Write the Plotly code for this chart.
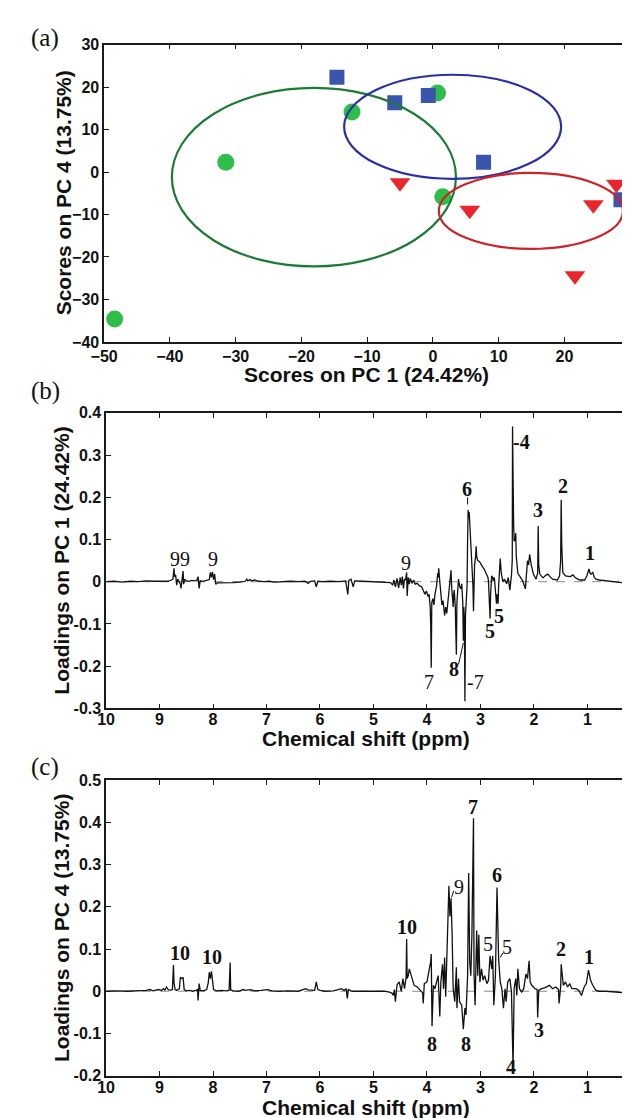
import plotly.graph_objects as go

# ---------------- Panel (a): PCA scores ----------------
green_pc1 = [-48.4, -31.5, -12.3, 0.7, 1.5]
green_pc4 = [-34.6, 2.3, 14.1, 18.6, -5.8]
blue_pc1 = [-14.6, -5.8, -0.7, 7.7, 28.6]
blue_pc4 = [22.3, 16.3, 18.0, 2.3, -6.5]
red_pc1 = [-5.0, 5.6, 24.4, 27.9, 21.6]
red_pc4 = [-2.5, -9.0, -7.7, -2.9, -24.4]

# confidence ellipses: [x_min, x_max, y_min, y_max]
ellipse_green = [-39.7, 3.5, -22.2, 19.8]
ellipse_blue = [-13.5, 19.5, -1.6, 22.9]
ellipse_red = [0.9, 28.9, -18.1, -0.2]

# ---------------- Panel (b): loadings on PC 1 ----------------
b_ppm = [
    10.0, 9.85, 9.7, 9.55, 9.4, 9.25, 9.1, 8.95, 8.85, 8.78, 8.75, 8.73, 8.72, 8.70, 8.68, 8.66,
    8.63, 8.61, 8.60, 8.58, 8.56, 8.55, 8.53, 8.50, 8.45, 8.40, 8.35, 8.30, 8.28, 8.26, 8.24, 8.18,
    8.12, 8.07, 8.05, 8.03, 8.01, 7.99, 7.97, 7.95, 7.92, 7.85, 7.75, 7.62, 7.50, 7.40, 7.37, 7.35,
    7.31, 7.28, 7.22, 7.15, 7.05, 6.95, 6.85, 6.70, 6.55, 6.40, 6.28, 6.22, 6.18, 6.10, 6.07, 6.04,
    5.95, 5.80, 5.65, 5.52, 5.48, 5.46, 5.42, 5.38, 5.35, 5.20, 5.00, 4.80, 4.68, 4.64, 4.62, 4.59,
    4.56, 4.53, 4.50, 4.48, 4.46, 4.44, 4.42, 4.40, 4.38, 4.37, 4.35, 4.33, 4.31, 4.28, 4.25, 4.22,
    4.18, 4.14, 4.10, 4.07, 4.04, 4.01, 3.98, 3.96, 3.94, 3.93, 3.92, 3.91, 3.89, 3.87, 3.85, 3.82,
    3.80, 3.79, 3.78, 3.76, 3.74, 3.72, 3.70, 3.68, 3.67, 3.65, 3.63, 3.61, 3.59, 3.57, 3.55, 3.54,
    3.52, 3.51, 3.50, 3.49, 3.48, 3.47, 3.46, 3.45, 3.44, 3.42, 3.41, 3.39, 3.37, 3.35, 3.33, 3.32,
    3.31, 3.30, 3.29, 3.28, 3.26, 3.25, 3.24, 3.23, 3.22, 3.21, 3.20, 3.19, 3.17, 3.15, 3.14, 3.13,
    3.12, 3.11, 3.09, 3.08, 3.07, 3.05, 3.02, 2.99, 2.96, 2.93, 2.90, 2.88, 2.86, 2.85, 2.83, 2.82,
    2.81, 2.79, 2.77, 2.76, 2.74, 2.72, 2.70, 2.69, 2.67, 2.66, 2.64, 2.63, 2.61, 2.58, 2.55, 2.51,
    2.48, 2.45, 2.42, 2.405, 2.40, 2.39, 2.38, 2.37, 2.35, 2.34, 2.33, 2.30, 2.25, 2.21, 2.16, 2.12,
    2.10, 2.08, 2.05, 2.01, 1.96, 1.93, 1.92, 1.91, 1.89, 1.83, 1.78, 1.74, 1.70, 1.65, 1.56, 1.52,
    1.50, 1.49, 1.48, 1.46, 1.41, 1.36, 1.32, 1.27, 1.23, 1.18, 1.14, 1.05, 1.01, 0.97, 0.95, 0.93,
    0.90, 0.87, 0.84, 0.78, 0.70, 0.60, 0.50, 0.40, 0.30, 0.20,
]
b_load = [
    0.000, 0.001, -0.001, 0.001, 0.000, 0.002, 0.001, 0.002, 0.001, 0.004, 0.006, 0.032, 0.012, 0.016, -0.008, 0.006,
    0.000, -0.006, -0.016, 0.004, 0.025, -0.006, 0.006, 0.002, 0.001, 0.003, 0.002, 0.004, 0.012, -0.016, 0.002, 0.001,
    0.003, 0.005, 0.022, 0.010, 0.023, 0.005, 0.018, -0.006, -0.003, -0.003, -0.002, -0.002, -0.001, 0.001, 0.006, 0.002,
    0.005, 0.002, 0.004, 0.001, 0.000, 0.001, -0.001, 0.000, 0.001, 0.000, 0.001, -0.004, 0.001, 0.002, -0.012, 0.001,
    0.000, 0.001, 0.000, 0.002, -0.030, 0.003, 0.006, -0.012, 0.002, 0.001, 0.000, 0.000, -0.002, -0.008, 0.004, -0.012,
    0.008, -0.015, 0.010, -0.008, 0.012, -0.016, 0.006, 0.004, 0.022, -0.034, 0.010, -0.006, 0.008, -0.004, 0.004, -0.006,
    -0.004, -0.010, -0.012, -0.020, -0.030, -0.022, -0.035, -0.030, -0.060, -0.100, -0.204, -0.050, -0.040, -0.055, -0.030, -0.010,
    0.020, 0.010, 0.032, 0.000, -0.030, -0.055, -0.045, -0.070, -0.080, -0.060, -0.075, -0.050, -0.020, 0.000, 0.027, -0.010,
    -0.045, -0.060, -0.030, -0.020, -0.040, -0.060, -0.120, -0.173, -0.050, -0.010, 0.006, -0.010, -0.017, -0.005, -0.050, -0.140,
    -0.060, -0.100, -0.283, -0.080, -0.045, -0.010, 0.100, 0.170, 0.150, 0.165, 0.140, 0.120, 0.060, 0.025, -0.010, -0.070,
    0.000, 0.040, 0.060, 0.084, 0.060, 0.050, 0.048, 0.040, 0.035, 0.030, 0.022, 0.018, 0.010, 0.002, -0.040, -0.087,
    -0.030, 0.014, 0.010, 0.002, 0.010, -0.020, -0.052, -0.030, -0.052, -0.010, 0.040, 0.055, 0.020, 0.000, 0.006, -0.005,
    0.010, -0.020, 0.015, 0.050, 0.368, 0.197, 0.140, 0.096, 0.100, 0.115, 0.060, 0.020, 0.010, 0.002, -0.017, 0.050,
    0.040, 0.065, 0.040, 0.018, 0.006, 0.020, 0.132, 0.040, 0.018, 0.009, 0.015, 0.018, 0.012, 0.006, 0.004, 0.014,
    0.050, 0.194, 0.090, 0.022, 0.014, 0.012, 0.012, 0.016, 0.010, 0.006, 0.004, 0.004, 0.014, 0.030, 0.020, 0.018,
    0.022, 0.010, 0.006, 0.004, 0.003, 0.002, 0.000, -0.002, -0.003, -0.005,
]

# ---------------- Panel (c): loadings on PC 4 ----------------
c_ppm = [
    10.0, 9.8, 9.6, 9.4, 9.25, 9.18, 9.12, 9.02, 8.96, 8.93, 8.90, 8.87, 8.84, 8.80, 8.76, 8.74,
    8.73, 8.71, 8.68, 8.63, 8.61, 8.58, 8.56, 8.54, 8.50, 8.44, 8.38, 8.32, 8.29, 8.28, 8.26, 8.24,
    8.18, 8.12, 8.09, 8.07, 8.05, 8.03, 8.01, 7.99, 7.93, 7.85, 7.75, 7.70, 7.68, 7.67, 7.62, 7.52,
    7.44, 7.40, 7.30, 7.22, 7.10, 6.98, 6.90, 6.75, 6.60, 6.40, 6.27, 6.22, 6.10, 6.07, 6.04, 6.00,
    5.90, 5.75, 5.66, 5.60, 5.55, 5.51, 5.49, 5.47, 5.40, 5.20, 5.00, 4.80, 4.70, 4.65, 4.63, 4.61,
    4.59, 4.56, 4.52, 4.48, 4.45, 4.42, 4.39, 4.38, 4.37, 4.35, 4.33, 4.30, 4.27, 4.24, 4.18, 4.12,
    4.08, 4.07, 4.05, 4.00, 3.96, 3.93, 3.92, 3.905, 3.88, 3.85, 3.82, 3.79, 3.76, 3.74, 3.71, 3.69,
    3.67, 3.65, 3.63, 3.61, 3.59, 3.57, 3.55, 3.53, 3.51, 3.48, 3.45, 3.44, 3.41, 3.39, 3.35, 3.32,
    3.29, 3.27, 3.24, 3.22, 3.20, 3.18, 3.16, 3.13, 3.12, 3.10, 3.08, 3.07, 3.05, 3.03, 3.01, 2.98,
    2.95, 2.92, 2.88, 2.85, 2.82, 2.79, 2.77, 2.75, 2.72, 2.69, 2.66, 2.63, 2.60, 2.57, 2.54, 2.52,
    2.49, 2.45, 2.42, 2.39, 2.37, 2.34, 2.32, 2.30, 2.27, 2.23, 2.19, 2.15, 2.12, 2.09, 2.07, 2.04,
    1.98, 1.94, 1.93, 1.91, 1.86, 1.80, 1.71, 1.65, 1.59, 1.54, 1.53, 1.50, 1.49, 1.45, 1.41, 1.37,
    1.33, 1.29, 1.21, 1.16, 1.11, 1.06, 1.02, 0.98, 0.94, 0.90, 0.84, 0.78, 0.65, 0.50, 0.35, 0.20,
]
c_load = [
    0.000, 0.001, 0.000, 0.001, 0.002, 0.004, 0.001, 0.004, 0.002, 0.006, 0.003, 0.010, 0.004, 0.002, 0.004, 0.062,
    0.020, 0.004, 0.002, 0.006, 0.033, 0.030, 0.033, 0.004, 0.001, 0.002, 0.000, 0.002, 0.004, -0.022, 0.018, 0.002,
    0.001, 0.004, 0.020, 0.045, 0.030, 0.047, 0.020, 0.004, 0.001, 0.002, 0.001, 0.002, 0.068, 0.003, 0.001, 0.000,
    0.004, 0.002, 0.004, 0.001, 0.002, 0.004, 0.001, 0.000, 0.001, 0.000, 0.006, 0.003, 0.002, 0.022, 0.004, 0.002,
    0.000, 0.001, 0.004, 0.006, 0.002, 0.006, -0.017, 0.004, 0.000, 0.000, 0.000, 0.000, -0.002, -0.005, -0.010, 0.004,
    -0.025, 0.015, 0.022, 0.000, 0.030, 0.006, 0.033, 0.124, 0.030, 0.037, 0.053, 0.041, 0.030, 0.014, 0.010, 0.000,
    -0.004, -0.029, 0.018, 0.022, 0.045, 0.070, 0.088, -0.083, 0.014, 0.006, 0.022, 0.037, -0.060, 0.022, 0.064, 0.006,
    0.080, -0.013, 0.072, 0.146, 0.250, 0.177, 0.220, 0.138, 0.006, -0.025, 0.057, -0.040, 0.030, -0.025, -0.033, -0.090,
    -0.040, -0.056, 0.037, 0.280, 0.068, 0.037, 0.130, 0.410, 0.045, -0.033, 0.068, 0.144, 0.037, 0.134, 0.022, 0.053,
    0.026, 0.037, 0.018, 0.026, 0.084, 0.053, 0.084, -0.033, 0.037, 0.246, 0.076, 0.022, 0.006, -0.040, 0.006, -0.025,
    0.022, 0.030, -0.002, -0.180, 0.006, 0.030, -0.010, 0.053, 0.006, -0.002, 0.006, 0.041, 0.030, 0.072, 0.022, 0.014,
    0.006, 0.004, -0.062, 0.002, 0.006, 0.008, 0.014, 0.006, 0.010, 0.004, -0.029, 0.010, 0.064, 0.014, 0.022, 0.010,
    0.018, 0.006, 0.006, 0.002, -0.010, 0.010, 0.018, 0.050, 0.026, 0.014, 0.002, 0.000, 0.000, -0.002, -0.003, -0.003,
]

# peak labels
b_label_text = ["9", "9", "9", "9", "6", "-4", "2", "3", "1", "7", "8", "-7", "5", "5"]
b_label_ppm = [8.71, 8.52, 8.00, 4.40, 3.25, 2.24, 1.46, 1.92, 0.96, 3.96, 3.50, 3.09, 2.82, 2.66]
b_label_val = [0.053, 0.053, 0.053, 0.045, 0.220, 0.332, 0.227, 0.169, 0.068, -0.238, -0.207, -0.238, -0.118, -0.081]
b_label_bold = [False, False, False, False, True, True, True, True, True, False, True, False, True, True]

c_label_text = ["10", "10", "10", "9", "7", "6", "5", "5", "2", "1", "8", "8", "3", "4"]
c_label_ppm = [8.61, 8.02, 4.38, 3.41, 3.13, 2.69, 2.85, 2.51, 1.49, 0.97, 3.90, 3.27, 1.90, 2.42]
c_label_val = [0.091, 0.080, 0.153, 0.246, 0.436, 0.275, 0.111, 0.105, 0.099, 0.081, -0.126, -0.126, -0.091, -0.180]
c_label_bold = [True, True, True, False, True, True, False, False, True, True, True, True, True, True]

ppm_ticks = [10, 9, 8, 7, 6, 5, 4, 3, 2, 1]

# ---------------- figure ----------------
W, H = 630, 1118
SANS = "Liberation Sans, Arial, sans-serif"
SERIF = "Liberation Serif, Times New Roman, serif"
AX = "#1a1a1a"

fig = go.Figure()

fig.add_trace(go.Scatter(x=green_pc1, y=green_pc4, mode="markers", xaxis="x", yaxis="y",
                         marker=dict(symbol="circle", size=17, color="#2fbd4a", line=dict(width=0))))
fig.add_trace(go.Scatter(x=blue_pc1, y=blue_pc4, mode="markers", xaxis="x", yaxis="y",
                         marker=dict(symbol="square", size=15, color="#3a55ad", line=dict(width=0))))
fig.add_trace(go.Scatter(x=red_pc1, y=red_pc4, mode="markers", xaxis="x", yaxis="y",
                         marker=dict(symbol="triangle-down", size=18, color="#e8262b", line=dict(width=0))))

fig.add_trace(go.Scatter(x=b_ppm, y=b_load, mode="lines", xaxis="x2", yaxis="y2",
                         line=dict(color="#111111", width=1.3)))
fig.add_trace(go.Scatter(x=c_ppm, y=c_load, mode="lines", xaxis="x3", yaxis="y3",
                         line=dict(color="#111111", width=1.3)))

def px_x(p):
    return p / W

def px_y(p):
    return 1 - p / H

axis_common = dict(showline=True, linecolor=AX, linewidth=1.5, mirror="ticks", ticks="inside",
                   ticklen=5, tickcolor=AX, tickwidth=1, showgrid=False, zeroline=False,
                   tickfont=dict(family=SANS, size=16, color="#111", weight="bold"))
xcommon = dict(axis_common, ticklabelstandoff=-4)
xcommon_a = dict(axis_common, ticklabelstandoff=-1)

fig.update_layout(
    width=W, height=H, margin=dict(l=0, r=0, t=0, b=0),
    paper_bgcolor="white", plot_bgcolor="white", showlegend=False,
    xaxis=dict(domain=[px_x(84), px_x(622)], range=[-50, 30], dtick=10, anchor="y", **xcommon_a),
    yaxis=dict(domain=[px_y(331), px_y(29)], range=[-40, 30], dtick=10, anchor="x", **axis_common),
    xaxis2=dict(domain=[px_x(86), px_x(622)], range=[10, 0.2], tickvals=ppm_ticks,
                ticktext=[str(t) for t in ppm_ticks], anchor="y2", **xcommon),
    yaxis2=dict(domain=[px_y(703), px_y(403)], range=[-0.3, 0.4], tickvals=[-0.3, -0.2, -0.1, 0, 0.1, 0.2, 0.3, 0.4],
                ticktext=["-0.3", "-0.2", "-0.1", "0", "0.1", "0.2", "0.3", "0.4"], anchor="x2", **axis_common),
    xaxis3=dict(domain=[px_x(86), px_x(622)], range=[10, 0.2], tickvals=ppm_ticks,
                ticktext=[str(t) for t in ppm_ticks], anchor="y3", **xcommon),
    yaxis3=dict(domain=[px_y(1076), px_y(776)], range=[-0.2, 0.5], tickvals=[-0.2, -0.1, 0, 0.1, 0.2, 0.3, 0.4, 0.5],
                ticktext=["-0.2", "-0.1", "0", "0.1", "0.2", "0.3", "0.4", "0.5"], anchor="x3", **axis_common),
)

shapes = []
for (bounds, col) in [(ellipse_green, "#1e7b35"), (ellipse_blue, "#2c2fa3"), (ellipse_red, "#cc2229")]:
    shapes.append(dict(type="circle", xref="x", yref="y", x0=bounds[0], x1=bounds[1], y0=bounds[2], y1=bounds[3],
                       line=dict(color=col, width=2.2)))
for ax in ["2", "3"]:
    shapes.append(dict(type="line", xref="x%s domain" % ax, yref="y" + ax, x0=0, x1=1, y0=0, y1=0,
                       line=dict(color="#888888", width=1, dash="dash"), layer="below"))
# leader lines of labels
for (xr, yr, x0, y0, x1, y1) in [("x2", "y2", 3.24, 0.183, 3.24, 0.200),
                                  ("x2", "y2", 3.41, -0.196, 3.32, -0.145),
                                  ("x3", "y3", 3.54, 0.222, 3.50, 0.238),
                                  ("x3", "y3", 2.63, 0.080, 2.58, 0.091)]:
    shapes.append(dict(type="line", xref=xr, yref=yr, x0=x0, y0=y0, x1=x1, y1=y1,
                       line=dict(color="#111", width=1)))
fig.update_layout(shapes=shapes)

ann = []
for txt, xp, yp in [("(a)", 24, 22), ("(b)", 24, 381), ("(c)", 24, 763)]:
    ann.append(dict(text=txt, x=px_x(xp), y=px_y(yp), xref="paper", yref="paper", showarrow=False,
                    xanchor="center", yanchor="middle", font=dict(family=SERIF, size=25, color="#111")))
title_font = dict(family=SANS, size=21, color="#111", weight="bold")
for txt, xp, yp, ang in [("Scores on PC 1 (24.42%)", 352, 364, 0),
                         ("Scores on PC 4 (13.75%)", 42, 180, -90),
                         ("Chemical shift (ppm)", 352, 734, 0),
                         ("Loadings on PC 1 (24.42%)", 41, 553, -90),
                         ("Chemical shift (ppm)", 352, 1108, 0),
                         ("Loadings on PC 4 (13.75%)", 41, 926, -90)]:
    ann.append(dict(text=txt, x=px_x(xp), y=px_y(yp), xref="paper", yref="paper", showarrow=False,
                    xanchor="center", yanchor="middle", textangle=ang, font=title_font))
for texts, xs, ys, bolds, xr, yr in [(b_label_text, b_label_ppm, b_label_val, b_label_bold, "x2", "y2"),
                                     (c_label_text, c_label_ppm, c_label_val, c_label_bold, "x3", "y3")]:
    for t, xv, yv, bd in zip(texts, xs, ys, bolds):
        ann.append(dict(text=t, x=xv, y=yv, xref=xr, yref=yr, showarrow=False, xanchor="center",
                        yanchor="middle",
                        font=dict(family=SERIF, size=20, color="#111", weight="bold" if bd else "normal")))
fig.update_layout(annotations=ann)

fig.write_html("out.html")
